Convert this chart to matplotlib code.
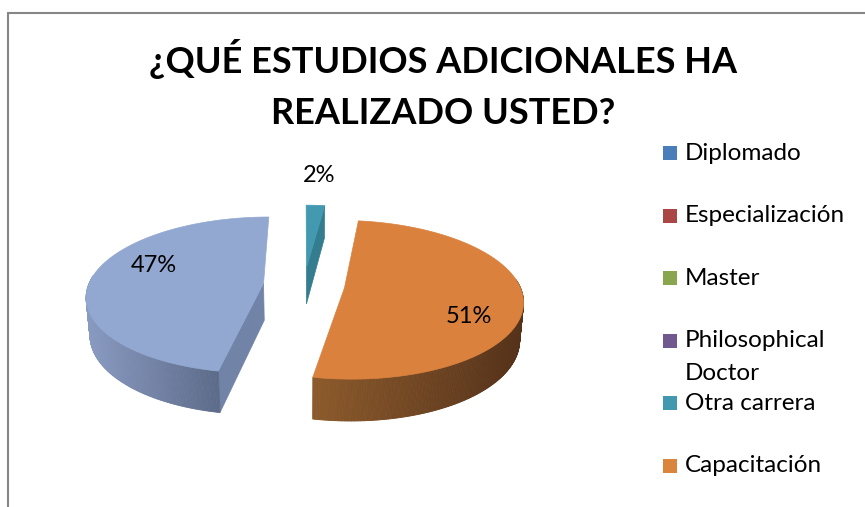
import numpy as np
import matplotlib
matplotlib.use('Agg')
from matplotlib import pyplot as plt
from matplotlib.patches import Polygon, Rectangle
from matplotlib.collections import PolyCollection
from matplotlib.colors import to_rgb


# =============================================================================
# Data
# =============================================================================
title = '¿QUÉ ESTUDIOS ADICIONALES HA\nREALIZADO USTED?'
legend_labels = ['Diplomado', 'Especialización', 'Master',
	'Philosophical\nDoctor', 'Otra carrera', 'Capacitación']
# last value has no legend entry
values = [0, 0, 0, 0, 2, 51, 47]

legend_colors = ['#4A7EBB', '#AA4643', '#89A54E', '#71588F', '#4198AF',
	'#DB843D']
top_colors = ['#4A7EBB', '#AA4643', '#89A54E', '#71588F', '#4299B0',
	'#D9813D', '#92A8D0']
side_colors = ['#3A6596', '#883835', '#6D843E', '#5A4672', '#337D8F',
	'#8E5A2B', '#7183A6']
wall_light = ['#3A6596', '#883835', '#6D843E', '#5A4672', '#3A8DA1',
	'#8C5A2B', '#8A9BC2']
wall_dark = ['#2A4A6E', '#642826', '#50612D', '#423354', '#2A6877',
	'#55321A', '#5D6B8A']


# =============================================================================
# 3D pie geometry
# =============================================================================
ELEV = np.radians(26)
DIST = 6.0
SCALE = 175
CX, CY = 304, 285
THICK = 0.24
EXPLODE = 0.233

# label placement (radius, vertical shift in px) for the drawn slices
label_pos = {4: (1.5, -4), 5: (0.70, 20), 6: (0.64, -13)}


def project(x, y, z):
	x, y, z = np.asarray(x, float), np.asarray(y, float), np.asarray(z, float)
	v = y * np.sin(ELEV) + z * np.cos(ELEV)
	w = y * np.cos(ELEV) - z * np.sin(ELEV)
	s = DIST / (DIST + w)
	return CX + SCALE * x * s, CY - SCALE * v * s


def mix(c1, c2, f):
	c1, c2 = np.array(to_rgb(c1)), np.array(to_rgb(c2))
	return tuple(c1 + (c2 - c1) * f)


fig = plt.figure(figsize=(8.65, 5.07), dpi=100)
ax = fig.add_axes([0, 0, 1, 1])
ax.set_xlim(0, 865)
ax.set_ylim(507, 0)
ax.axis('off')

# Chart frame
ax.plot([8, 8, 866], [508, 12.5, 12.5], color='#868686', lw=1.5,
	solid_joinstyle='miter')

total = sum(values)
cum = 0
for i, val in enumerate(values):
	t1 = 90 - cum / total * 360
	t2 = t1 - val / total * 360
	cum += val
	if val == 0:
		continue
	mid = np.radians((t1 + t2) / 2)
	ox, oy = EXPLODE * np.cos(mid), EXPLODE * np.sin(mid)
	th = np.radians(np.linspace(t2, t1, max(int(abs(t1 - t2) * 2), 4)))
	rx, ry = ox + np.cos(th), oy + np.sin(th)

	# Radial walls facing the viewer
	for a, upper in [(np.radians(t1), True), (np.radians(t2), False)]:
		if (upper and np.cos(a) < -1e-6) or (not upper and np.cos(a) > 1e-6):
			px = [ox, ox + np.cos(a), ox + np.cos(a), ox]
			py = [oy, oy + np.sin(a), oy + np.sin(a), oy]
			pz = [0, 0, -THICK, -THICK]
			X, Y = project(px, py, pz)
			ax.add_patch(Polygon(np.column_stack([X, Y]), closed=True,
				facecolor=side_colors[i], edgecolor=side_colors[i], lw=0.5))

	# Outer wall with a left to right shading
	Xt, Yt = project(rx, ry, np.zeros_like(rx))
	Xb, Yb = project(rx, ry, np.full_like(rx, -THICK))
	front = np.sin(th) < 0.1
	quads, cols = [], []
	xs = Xt[front] if front.any() else Xt
	xmin, xmax = xs.min(), xs.max()
	for k in range(len(th) - 1):
		if not (front[k] or front[k + 1]):
			continue
		quads.append([(Xt[k], Yt[k]), (Xt[k + 1], Yt[k + 1]),
			(Xb[k + 1], Yb[k + 1]), (Xb[k], Yb[k])])
		f = ((Xt[k] + Xt[k + 1]) / 2 - xmin) / max(xmax - xmin, 1)
		cols.append(mix(wall_light[i], wall_dark[i], np.clip(f, 0, 1)))
	if quads:
		ax.add_collection(PolyCollection(quads, facecolors=cols,
			edgecolors=cols, linewidths=0.6))

	# Top face
	Xa, Ya = project(ox, oy, 0)
	poly = np.vstack([[Xa, Ya], np.column_stack([Xt, Yt])])
	ax.add_patch(Polygon(poly, closed=True, facecolor=top_colors[i],
		edgecolor=top_colors[i], lw=0.5))

	# Percentage label
	r, dy = label_pos.get(i, (0.65, 0))
	lx, ly = project(ox + r * np.cos(mid), oy + r * np.sin(mid), 0)
	ax.text(lx, ly + dy, '{:.0f}%'.format(val / total * 100), fontsize=17,
		family='Lato', ha='center', va='center', color='black')

# Title, one line at a time
for j, line in enumerate(title.split('\n')):
	ax.text(443, 73 + j * 51, line, fontsize=26, fontweight='bold',
		family='Lato', ha='center', va='baseline')

# Legend
for k, (lab, col) in enumerate(zip(legend_labels, legend_colors)):
	yc = 153 + k * 62.6
	ax.add_patch(Rectangle((663, yc - 7), 14, 14, facecolor=col,
		edgecolor='none'))
	for j, line in enumerate(lab.split('\n')):
		ax.text(685, yc + j * 33, line, fontsize=17.5, family='Lato',
			ha='left', va='center', color='black')

plt.savefig('out.png', dpi=100)
